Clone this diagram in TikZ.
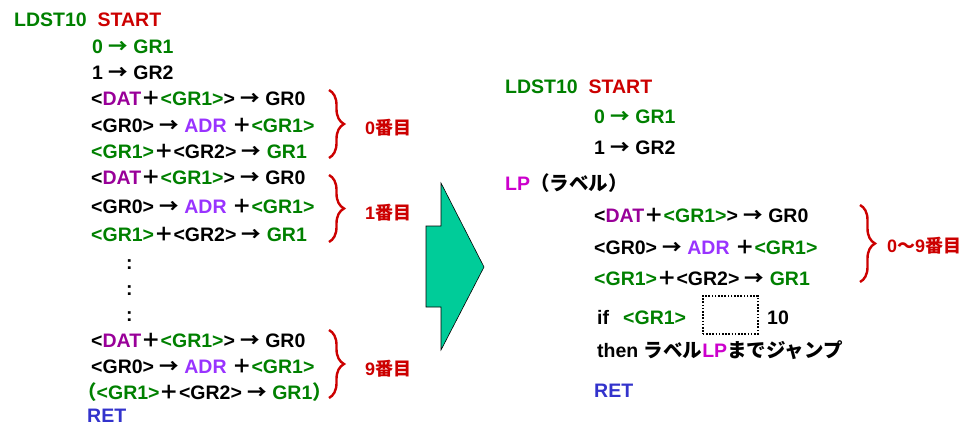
\documentclass[tikz,border=0pt]{standalone}
\usepackage{fontspec}
\setmainfont{Liberation Sans}
\newfontfamily\jp{Noto Sans CJK JP}
\usetikzlibrary{decorations.pathreplacing}
\definecolor{cgreen}{RGB}{0,128,0}
\definecolor{cred}{RGB}{204,0,0}
\definecolor{cpurp}{RGB}{153,0,153}
\definecolor{cviol}{RGB}{153,51,255}
\definecolor{cmag}{RGB}{204,0,204}
\definecolor{cblue}{RGB}{51,51,204}
\definecolor{cteal}{RGB}{0,204,153}
\newcommand\tgreen[1]{\textcolor{cgreen}{#1}}
\newcommand\tred[1]{\textcolor{cred}{#1}}
\newcommand\tpurp[1]{\textcolor{cpurp}{#1}}
\newcommand\tviol[1]{\textcolor{cviol}{#1}}
\newcommand\tmag[1]{\textcolor{cmag}{#1}}
\newcommand\tblue[1]{\textcolor{cblue}{#1}}
\newcommand\rarr{{\jp →}}
\newcommand\fplus{{\jp ＋}}
\begin{document}
\begin{tikzpicture}[x=1pt,y=-1pt,
  txt/.style={anchor=base west, inner sep=0pt, font=\fontsize{19.5}{22}\selectfont\bfseries},
  lbl/.style={anchor=base west, inner sep=0pt, text=cred, font=\fontsize{18}{22}\selectfont\bfseries},
  brc/.style={draw=cred, line width=2.4pt, decorate, decoration={brace, amplitude=15pt}},
  bigarrow/.style={fill=cteal, draw=black, line width=0.6pt, line join=miter}]
\useasboundingbox (0,0) rectangle (968,425);
% left column
\node[txt] (l0) at (14,27) {\tgreen{LDST10}\ \ \tred{START}};
\node[txt] (l1) at (92,54) {\tgreen{0 \rarr\ GR1}};
\node[txt] (l2) at (92,80) {1 \rarr\ GR2};
\node[txt] (l3) at (91,106) {<\tpurp{DAT}\fplus\tgreen{<GR1>}> \rarr\ GR0};
\node[txt] (l4) at (91,132) {<GR0> \rarr\ \tviol{ADR} \fplus\tgreen{<GR1>}};
\node[txt] (l5) at (91,158) {\tgreen{<GR1>}\fplus<GR2> \rarr\ \tgreen{GR1}};
\node[txt] (l6) at (91,184) {<\tpurp{DAT}\fplus\tgreen{<GR1>}> \rarr\ GR0};
\node[txt] (l7) at (91,213) {<GR0> \rarr\ \tviol{ADR} \fplus\tgreen{<GR1>}};
\node[txt] (l8) at (91,241) {\tgreen{<GR1>}\fplus<GR2> \rarr\ \tgreen{GR1}};
\node[txt] (d1) at (126,269) {:};
\node[txt] (d2) at (126,295) {:};
\node[txt] (d3) at (126,321) {:};
\node[txt] (l9) at (91,347) {<\tpurp{DAT}\fplus\tgreen{<GR1>}> \rarr\ GR0};
\node[txt] (l10) at (91,373) {<GR0> \rarr\ \tviol{ADR} \fplus\tgreen{<GR1>}};
\node[txt] (l11) at (77,399) {\tgreen{\jp （}\tgreen{<GR1>}\fplus<GR2> \rarr\ \tgreen{GR1\jp ）}};
\node[txt] (l12) at (87,422) {\tblue{RET}};
% left braces
\coordinate (b0t) at (329,90);  \coordinate (b0b) at (329,158);
\coordinate (b1t) at (329,175); \coordinate (b1b) at (329,242);
\coordinate (b2t) at (329,330); \coordinate (b2b) at (329,398);
\draw[brc] (b0t) -- (b0b);
\draw[brc] (b1t) -- (b1b);
\draw[brc] (b2t) -- (b2b);
\node[lbl] (n0) at (365,134) {0{\jp 番目}};
\node[lbl] (n1) at (365,219) {1{\jp 番目}};
\node[lbl] (n9) at (365,375) {9{\jp 番目}};
% big arrow
\draw[bigarrow] (426,226) -- (441,226) -- (441,183) -- (484,267) -- (441,350) -- (441,307) -- (426,307) -- cycle;
% right column
\node[txt] (r0) at (505,94) {\tgreen{LDST10}\ \ \tred{START}};
\node[txt] (r1) at (594,124) {\tgreen{0 \rarr\ GR1}};
\node[txt] (r2) at (594,154) {1 \rarr\ GR2};
\node[txt] (r3) at (505,190) {\tmag{LP}{\jp （ラベル）}};
\node[txt] (r4) at (594,222) {<\tpurp{DAT}\fplus\tgreen{<GR1>}> \rarr\ GR0};
\node[txt] (r5) at (594,254) {<GR0> \rarr\ \tviol{ADR} \fplus\tgreen{<GR1>}};
\node[txt] (r6) at (594,285) {\tgreen{<GR1>}\fplus<GR2> \rarr\ \tgreen{GR1}};
\node[txt] (rif) at (597,324) {if};
\node[txt] (rgr) at (623,324) {\tgreen{<GR1>}};
\node[draw, dash pattern=on 1.6pt off 1.6pt, line width=1.6pt, minimum width=55pt, minimum height=38pt, anchor=north west, inner sep=0pt] (box) at (702,295) {};
\node[txt] (r10) at (767,324) {10};
\node[txt] (r7) at (597,357) {then {\jp ラベル}\tmag{LP}{\jp までジャンプ}};
\node[txt] (r8) at (594,397) {\tblue{RET}};
\coordinate (brt) at (860,205); \coordinate (brb) at (860,282);
\draw[brc] (brt) -- (brb);
\node[lbl] (nr) at (887,252) {0{\jp ～}9{\jp 番目}};
\end{tikzpicture}
\end{document}
